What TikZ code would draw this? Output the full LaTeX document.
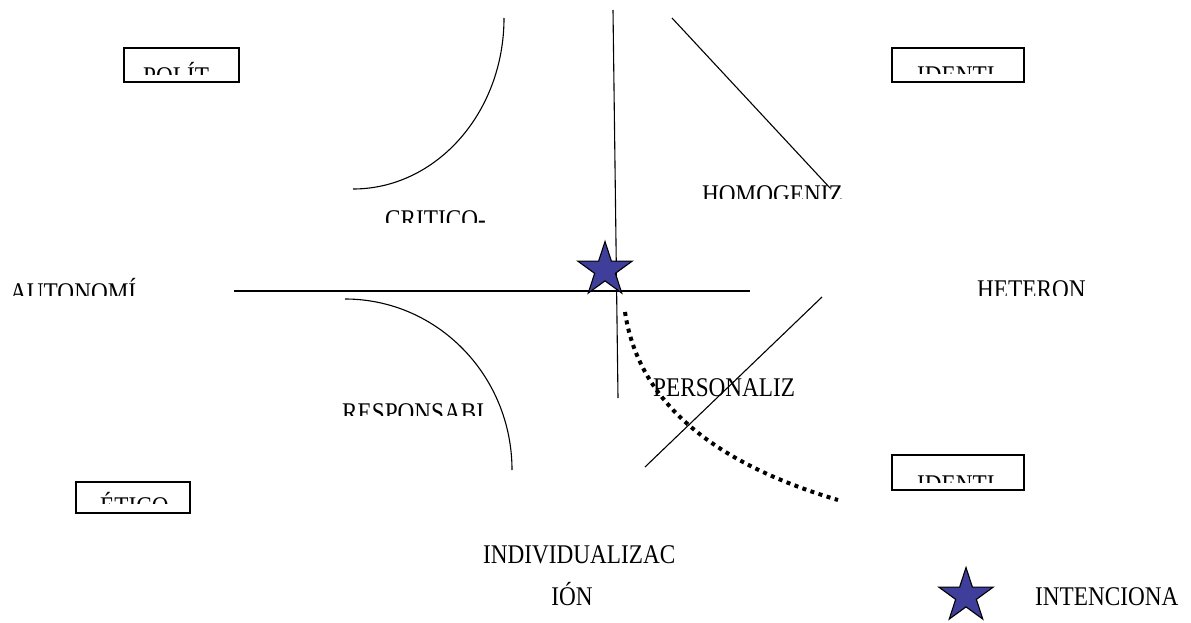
\documentclass[tikz,border=0pt]{standalone}
\usepackage{fontspec}
\setmainfont{Liberation Serif}[FakeStretch=0.86]
\usetikzlibrary{shapes.geometric}
\definecolor{starblue}{RGB}{63,63,155}
\tikzset{
  lbl/.style={anchor=base west, inner sep=0pt, font=\fontsize{27}{30}\selectfont},
  boxr/.style={draw, line width=1.3pt},
  thinl/.style={line width=1.1pt},
  starn/.style={star, star points=5, star point ratio=2.618, minimum size=57pt, inner sep=0pt, fill=starblue, draw=black, line width=1.1pt}
}
\begin{document}
\begin{tikzpicture}[x=1pt,y=-1pt]
\useasboundingbox (0,0) rectangle (1191,623);
% boxes
\draw[boxr] (124,48) rectangle (239,82);
\draw[boxr] (892,48) rectangle (1024,82);
\draw[boxr] (76,482) rectangle (190,513);
\draw[boxr] (892,455) rectangle (1024,490);
% clipped box texts
\begin{scope}\clip (125,49) rectangle (238,75);
\node[lbl] (t1) at (143,86) {POLÍT};\end{scope}
\begin{scope}\clip (893,49) rectangle (1023,74);
\node[lbl] (t2) at (917,85) {IDENTI};\end{scope}
\begin{scope}\clip (77,483) rectangle (189,503);
\node[lbl] (t3) at (100,515) {ÉTICO};\end{scope}
\begin{scope}\clip (893,456) rectangle (1023,482);
\node[lbl] (t4) at (917,493) {IDENTI};\end{scope}
% clipped free texts
\begin{scope}\clip (300,150) rectangle (520,222);
\node[lbl] (t5) at (385,228) {CRITICO-};\end{scope}
\begin{scope}\clip (680,150) rectangle (860,198);
\node[lbl] (t6) at (702,203) {HOMOGENIZ};\end{scope}
\begin{scope}\clip (0,260) rectangle (160,295);
\node[lbl] (t7) at (10,301) {AUTONOMÍ};\end{scope}
\begin{scope}\clip (960,260) rectangle (1100,295);
\node[lbl] (t8) at (977,298) {HETERON};\end{scope}
\begin{scope}\clip (320,380) rectangle (500,415);
\node[lbl] (t9) at (342,421) {RESPONSABI};\end{scope}
\begin{scope}\clip (640,360) rectangle (805,420);
\node[lbl] (t10) at (653,396) {PERSONALIZ};\end{scope}
\node[lbl] (t11) at (483,563) {INDIVIDUALIZAC};
\node[lbl, anchor=base] (t12) at (572,605) {IÓN};
\node[lbl] (t13) at (1035,605) {INTENCIONA};
% lines
\draw[thinl] (613,10) -- (618,398);
\draw[thinl] (234,291) -- (750,291);
\draw[thinl] (672,18) -- (830,188);
\draw[thinl] (645,467) -- (822,297);
\draw[thinl] (504,18) arc[start angle=0, end angle=90, x radius=151, y radius=171];
\draw[thinl] (345,299) arc[start angle=-90, end angle=0, x radius=167, y radius=171];
% dotted curve
\draw[line width=4pt, dash pattern=on 4pt off 4.5pt] (625,312) .. controls (638,400) and (710,462) .. (838,500);
% stars
\node[starn] (s1) at (605,270) {};
\node[starn] (s2) at (966,596) {};
\end{tikzpicture}
\end{document}
